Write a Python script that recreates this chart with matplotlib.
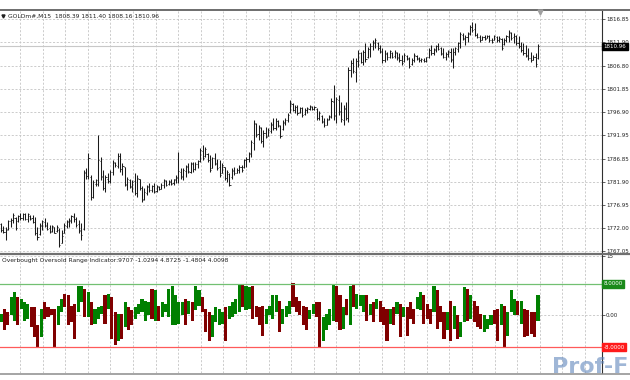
import numpy as np
import matplotlib
matplotlib.use('Agg')
import matplotlib.pyplot as plt
from matplotlib.lines import Line2D

# GOLDm#,M15 price bars
highs = [
    1773.0, 1772.4, 1772.2, 1773.7, 1774.1, 1775.1, 1774.4, 1774.8, 1775.1, 1775.3,
    1775.1, 1775.1, 1774.8, 1774.8, 1774.4, 1772.2, 1773.0, 1773.7, 1774.1, 1773.3,
    1772.6, 1772.6, 1772.2, 1772.6, 1771.9, 1771.5, 1773.0, 1773.7, 1774.1, 1774.8,
    1775.1, 1774.4, 1773.7, 1773.0, 1784.4, 1784.8, 1788.0, 1783.4, 1782.3, 1782.6,
    1791.9, 1787.3, 1784.4, 1783.4, 1783.7, 1784.4, 1786.6, 1786.2, 1788.0, 1788.0,
    1785.9, 1785.1, 1783.0, 1782.6, 1782.3, 1783.7, 1783.4, 1782.6, 1780.9, 1780.5,
    1781.2, 1781.6, 1781.2, 1781.6, 1781.2, 1780.9, 1781.6, 1782.6, 1782.3, 1782.3,
    1782.6, 1782.6, 1783.4, 1788.4, 1784.8, 1784.8, 1785.5, 1785.9, 1786.2, 1786.2,
    1786.2, 1786.6, 1789.1, 1789.8, 1789.4, 1788.0, 1787.7, 1787.3, 1788.0, 1786.9,
    1786.6, 1785.9, 1785.1, 1784.4, 1783.7, 1784.8, 1785.1, 1784.8, 1785.5, 1785.5,
    1786.9, 1787.3, 1788.4, 1790.9, 1795.2, 1794.5, 1794.1, 1793.7, 1793.0, 1793.7,
    1793.4, 1794.8, 1795.5, 1795.5, 1795.2, 1794.1, 1795.2, 1795.5, 1796.6, 1799.5,
    1798.8, 1798.4, 1798.4, 1798.0, 1798.0, 1797.7, 1798.0, 1798.4, 1798.2, 1798.2,
    1797.7, 1797.0, 1796.2, 1795.5, 1795.5, 1796.2, 1799.8, 1802.7, 1800.2, 1800.5,
    1799.1, 1798.4, 1799.1, 1806.6, 1808.1, 1808.4, 1808.4, 1810.2, 1809.8, 1810.2,
    1811.6, 1810.9, 1811.6, 1812.3, 1812.7, 1812.0, 1811.3, 1810.6, 1810.2, 1809.8,
    1810.2, 1809.8, 1810.2, 1809.8, 1809.5, 1809.1, 1809.5, 1809.1, 1808.8, 1808.4,
    1809.5, 1809.1, 1808.8, 1808.4, 1808.4, 1808.8, 1810.6, 1811.3, 1810.6, 1811.3,
    1811.6, 1810.9, 1810.6, 1809.8, 1810.2, 1810.6, 1810.6, 1810.9, 1812.0, 1814.1,
    1813.8, 1813.4, 1814.1, 1815.6, 1816.3, 1815.9, 1813.8, 1813.4, 1813.1, 1813.4,
    1813.4, 1813.4, 1812.7, 1813.4, 1813.1, 1813.1, 1812.7, 1812.7, 1813.4, 1814.5,
    1814.1, 1813.8, 1813.4, 1813.1, 1812.0, 1811.6, 1811.3, 1810.6, 1809.8, 1809.1,
    1809.5, 1811.40]
lows = [
    1771.2, 1770.8, 1769.4, 1771.5, 1772.2, 1773.0, 1771.5, 1773.3, 1773.7, 1773.7,
    1773.7, 1773.3, 1773.7, 1773.0, 1770.5, 1769.4, 1770.5, 1771.5, 1772.2, 1771.5,
    1770.8, 1771.2, 1770.8, 1771.2, 1767.9, 1768.7, 1770.8, 1771.9, 1772.2, 1773.0,
    1773.3, 1772.2, 1770.8, 1769.4, 1771.5, 1782.6, 1782.6, 1778.0, 1778.4, 1780.9,
    1780.9, 1782.3, 1780.1, 1779.8, 1781.6, 1781.6, 1783.4, 1785.1, 1784.8, 1784.1,
    1783.4, 1780.9, 1780.1, 1780.5, 1779.8, 1779.1, 1778.7, 1780.1, 1777.6, 1778.0,
    1779.1, 1779.8, 1779.8, 1779.4, 1779.8, 1780.1, 1780.3, 1780.5, 1780.9, 1781.2,
    1781.2, 1781.2, 1781.6, 1781.6, 1782.6, 1782.3, 1783.0, 1783.7, 1783.7, 1784.1,
    1784.4, 1784.8, 1786.2, 1786.6, 1787.3, 1786.2, 1784.1, 1784.8, 1785.5, 1784.4,
    1783.0, 1783.7, 1782.3, 1781.9, 1780.9, 1782.6, 1783.4, 1783.7, 1783.7, 1784.1,
    1784.8, 1785.1, 1786.2, 1787.3, 1788.7, 1791.6, 1790.9, 1790.2, 1789.4, 1791.2,
    1791.7, 1792.3, 1793.0, 1793.0, 1793.7, 1791.2, 1793.0, 1794.1, 1794.8, 1796.6,
    1797.0, 1796.6, 1796.2, 1796.6, 1795.9, 1796.2, 1796.6, 1797.3, 1797.3, 1797.3,
    1795.2, 1795.2, 1794.5, 1793.7, 1794.1, 1795.2, 1795.5, 1795.2, 1794.5, 1796.2,
    1794.8, 1794.1, 1795.2, 1794.8, 1804.5, 1805.2, 1803.4, 1806.6, 1807.3, 1807.0,
    1807.7, 1808.4, 1808.8, 1810.2, 1810.6, 1810.2, 1809.5, 1807.3, 1807.7, 1808.1,
    1808.4, 1808.4, 1808.4, 1808.1, 1807.7, 1807.0, 1807.7, 1808.1, 1806.3, 1807.0,
    1807.7, 1808.1, 1807.7, 1807.7, 1807.7, 1807.7, 1808.4, 1809.1, 1809.1, 1809.8,
    1810.2, 1809.1, 1808.4, 1808.1, 1808.8, 1807.7, 1806.3, 1809.1, 1809.8, 1810.6,
    1812.3, 1811.3, 1812.0, 1813.4, 1814.1, 1813.1, 1812.7, 1812.0, 1812.3, 1812.3,
    1812.7, 1812.0, 1811.6, 1812.3, 1812.0, 1812.0, 1810.2, 1811.3, 1812.0, 1812.0,
    1812.3, 1811.6, 1811.3, 1810.6, 1809.8, 1809.1, 1808.8, 1808.1, 1807.7, 1808.1,
    1806.6, 1808.16]
opens = [
    1772.8, 1771.6, 1771.2, 1771.8, 1773.4, 1773.6, 1774.2, 1773.5, 1774.5, 1774.1,
    1775.0, 1774.0, 1774.6, 1774.1, 1773.3, 1771.0, 1770.7, 1772.5, 1773.3, 1772.6,
    1771.9, 1771.4, 1772.1, 1771.3, 1771.6, 1768.8, 1771.0, 1772.4, 1773.2, 1773.4,
    1774.3, 1774.0, 1772.8, 1771.5, 1771.8, 1783.8, 1783.2, 1782.9, 1778.7, 1781.4,
    1781.5, 1786.4, 1783.2, 1780.5, 1782.5, 1782.1, 1784.1, 1785.9, 1785.3, 1787.4,
    1784.6, 1785.0, 1781.3, 1782.2, 1780.8, 1782.0, 1779.4, 1782.5, 1780.6, 1778.2,
    1779.6, 1780.8, 1780.2, 1780.9, 1779.9, 1780.8, 1780.4, 1781.2, 1782.0, 1781.4,
    1781.9, 1781.6, 1782.3, 1782.8, 1784.0, 1783.0, 1784.3, 1785.0, 1784.1, 1785.8,
    1784.7, 1785.7, 1786.4, 1788.6, 1787.5, 1787.8, 1786.6, 1784.9, 1787.0, 1785.9,
    1785.0, 1783.8, 1785.0, 1782.8, 1783.5, 1782.9, 1784.3, 1783.8, 1784.4, 1785.0,
    1785.0, 1786.5, 1786.8, 1787.8, 1790.3, 1794.3, 1792.1, 1793.5, 1790.6, 1792.3,
    1791.8, 1792.8, 1794.2, 1793.5, 1794.9, 1793.9, 1793.3, 1794.6, 1795.1, 1796.8,
    1798.6, 1797.3, 1798.0, 1796.8, 1797.7, 1796.4, 1797.3, 1797.6, 1798.0, 1797.5,
    1797.6, 1795.7, 1796.0, 1794.9, 1794.2, 1795.3, 1795.9, 1799.0, 1796.2, 1799.5,
    1797.0, 1795.2, 1797.6, 1795.5, 1805.8, 1807.3, 1805.5, 1807.8, 1809.5, 1807.6,
    1809.7, 1808.6, 1810.4, 1811.0, 1811.8, 1811.8, 1810.7, 1809.9, 1808.1, 1809.4,
    1808.7, 1809.6, 1808.9, 1809.6, 1808.6, 1808.1, 1807.9, 1808.9, 1808.4, 1807.1,
    1808.0, 1809.0, 1808.3, 1808.0, 1808.1, 1807.9, 1808.6, 1810.2, 1809.5, 1810.3,
    1811.0, 1810.6, 1809.5, 1808.7, 1809.3, 1809.8, 1808.1, 1809.7, 1810.5, 1811.6,
    1813.4, 1812.7, 1812.9, 1813.7, 1815.1, 1814.6, 1813.4, 1813.0, 1812.4, 1812.9,
    1812.8, 1813.2, 1812.3, 1812.4, 1813.0, 1812.3, 1812.6, 1811.5, 1812.4, 1813.0,
    1813.9, 1812.9, 1813.2, 1811.8, 1811.0, 1810.3, 1809.6, 1809.1, 1808.5, 1808.1,
    1808.8, 1808.39]
closes = [
    1771.6, 1771.2, 1771.5, 1773.4, 1773.8, 1774.8, 1772.0, 1774.6, 1774.2, 1775.0,
    1774.0, 1774.9, 1774.0, 1773.2, 1770.9, 1770.0, 1772.7, 1773.4, 1772.5, 1771.8,
    1771.2, 1772.3, 1771.0, 1772.2, 1768.4, 1770.2, 1772.7, 1773.4, 1773.8, 1774.5,
    1774.0, 1772.6, 1771.4, 1770.4, 1783.9, 1783.2, 1787.0, 1778.6, 1781.8, 1782.2,
    1786.5, 1783.0, 1780.6, 1782.9, 1782.0, 1784.0, 1786.1, 1785.4, 1787.4, 1784.6,
    1785.3, 1781.4, 1782.5, 1780.9, 1781.9, 1779.5, 1782.8, 1780.5, 1778.0, 1779.8,
    1780.9, 1780.2, 1781.0, 1779.8, 1780.9, 1780.3, 1781.3, 1782.2, 1781.3, 1782.0,
    1781.5, 1782.4, 1783.0, 1784.2, 1783.1, 1784.5, 1785.2, 1784.2, 1785.9, 1784.6,
    1785.8, 1786.3, 1788.7, 1787.0, 1789.0, 1786.6, 1784.5, 1787.0, 1785.8, 1784.9,
    1783.4, 1785.5, 1782.7, 1783.9, 1781.3, 1784.4, 1783.8, 1784.5, 1785.1, 1784.5,
    1786.6, 1786.9, 1788.0, 1790.5, 1794.5, 1792.0, 1793.6, 1790.7, 1792.4, 1791.5,
    1793.0, 1794.3, 1793.4, 1795.0, 1794.0, 1791.7, 1794.8, 1795.2, 1796.2, 1798.8,
    1797.4, 1798.0, 1796.6, 1797.8, 1796.3, 1797.4, 1797.8, 1798.1, 1797.5, 1798.0,
    1795.6, 1796.6, 1794.8, 1794.0, 1795.1, 1796.0, 1799.2, 1796.0, 1799.6, 1796.9,
    1795.3, 1797.8, 1795.7, 1805.9, 1807.5, 1805.6, 1807.9, 1809.6, 1807.7, 1809.8,
    1808.2, 1810.5, 1811.1, 1811.9, 1812.3, 1810.6, 1809.8, 1808.0, 1809.6, 1808.6,
    1809.9, 1808.8, 1809.7, 1808.5, 1808.0, 1807.4, 1809.1, 1808.3, 1806.8, 1808.1,
    1809.2, 1808.4, 1808.0, 1808.2, 1807.9, 1808.6, 1810.2, 1809.6, 1810.4, 1811.0,
    1810.5, 1809.4, 1808.8, 1809.4, 1809.9, 1808.2, 1809.8, 1810.6, 1811.7, 1813.6,
    1812.6, 1813.0, 1813.8, 1815.2, 1814.5, 1813.4, 1813.0, 1812.3, 1812.9, 1812.6,
    1813.2, 1812.3, 1811.9, 1813.1, 1812.3, 1812.8, 1810.6, 1812.4, 1813.1, 1814.1,
    1812.8, 1813.3, 1811.7, 1811.0, 1810.2, 1809.5, 1809.0, 1808.5, 1808.0, 1808.8,
    1807.2, 1810.96]

# Overbought Oversold Range Indicator histogram (open / close of each block)
osc_open = [
    -1.7, 1.7, 0.8, 0.0, -1.3, 4.7, 1.7, -1.3, -0.8, 2.1,
    2.1, -2.5, -5.5, 3.4, 2.1, 1.7, 1.7, -2.5, 0.8, 5.5,
    5.1, 2.5, 3.0, 0.8, 3.4, 6.8, -0.4, 3.4, -2.1, -0.8,
    0.4, 5.1, 1.7, 4.7, 0.8, -6.4, 0.4, -3.0, 2.1, 1.3,
    -0.8, 0.4, 0.8, -1.3, 0.0, 6.8, -1.3, 2.5, -0.4, 0.8,
    -0.4, -2.5, -2.5, -2.1, 0.0, 4.2, 0.4, 3.4, 1.3, 2.5,
    4.7, 1.7, 0.8, -5.5, -1.7, -2.5, -2.1, 2.1, -0.8, -0.4,
    0.4, 0.8, 8.0, 1.3, 1.7, 7.6, 2.5, 2.1, 2.5, -2.1,
    0.0, -0.8, 0.8, 3.8, -2.1, -0.4, 0.4, 8.3, 4.7, 3.8,
    2.5, 2.1, -0.8, 0.4, 3.4, 3.4, -6.4, -3.8, -2.5, -1.3,
    7.6, 5.1, -3.4, 4.2, -2.5, 8.0, 1.7, 2.5, 0.8, 5.1,
    0.0, 3.4, 1.7, 3.8, 2.1, 1.7, -2.1, 2.1, 0.4, 3.0,
    -0.4, 2.1, 3.4, 1.7, 1.7, 1.3, 5.1, 3.0, 1.7, 0.8,
    6.4, 2.5, 0.8, -3.8, 3.8, -3.4, 0.0, -5.5, -1.7, 6.8,
    -0.8, 3.8, 2.5, 0.4, -4.2, -3.4, -2.5, 1.3, 1.7, -2.5,
    2.5, -5.1, 0.8, 0.0, 3.8, -2.1, 1.7, 1.3, 0.8, 0.8,
    -1.3]
osc_close = [
    0.4, -3.8, -2.5, 4.7, 5.9, -2.5, 4.2, 3.4, 3.0, -3.0,
    -5.5, -8.0, 1.7, -0.8, -0.4, 0.0, -8.0, 2.5, 4.2, 2.1,
    -2.5, -1.7, -5.9, 7.6, 7.6, -0.4, 5.9, -2.5, 1.7, 2.1,
    2.5, -2.1, 5.5, -5.9, -7.6, 0.4, -5.9, 3.4, -3.8, -2.5,
    2.1, 3.0, 4.2, 3.8, 3.4, -0.8, 6.4, -1.3, 3.4, 3.0,
    6.8, 7.6, 5.1, 3.4, 3.4, -2.5, 3.8, -1.3, 7.6, 6.4,
    0.8, -4.2, -6.4, 0.0, 2.1, 1.7, 0.8, -6.4, 2.5, 3.4,
    4.2, 8.0, 2.1, 7.6, 7.2, -0.8, -0.4, -2.5, -5.1, 1.7,
    2.5, 5.1, 5.1, -4.2, 1.7, 2.5, 3.8, 2.1, 0.8, 0.0,
    -2.5, -3.8, 1.3, 3.0, -0.4, -8.0, -0.4, 0.4, 1.7, 8.0,
    -1.7, -3.8, 2.1, 0.0, 7.6, 2.1, 5.5, 5.1, 5.1, -1.3,
    3.0, -1.7, 4.2, -1.7, -2.5, -6.4, 1.7, -2.5, 3.4, -5.5,
    2.1, -5.1, -0.8, -2.1, 4.7, 5.9, -2.1, -0.8, -2.1, 7.6,
    -3.4, -1.7, -5.9, 0.8, -6.4, 2.5, -5.9, -1.7, 7.2, -1.3,
    5.1, -1.7, -3.0, -3.4, 0.0, -0.8, 0.0, -2.1, -6.4, 3.0,
    -8.0, 0.8, 6.4, 4.2, 0.0, 3.8, -5.5, -5.1, -4.7, -5.5,
    5.1]

price_ticks = [1816.85, 1811.90, 1806.80, 1801.85, 1796.90, 1791.95,
               1786.85, 1781.90, 1776.95, 1772.00, 1767.05]
price_labels = ['1816.85', '1811.90', '1806.80', '1801.85', '1796.90', '1791.95',
                '1786.85', '1781.90', '1776.95', '1772.00', '1767.05']
last_price = 1810.96
level_hi, level_lo = 8.0, -8.0
header = 'GOLDm#,M15  1808.39 1811.40 1808.16 1810.96'
ind_header = 'Overbought Oversold Range Indicator:9707 -1.0294 4.8725 -1.4804 4.0098'

W, H = 630, 380
FS = 4.3
AFS = 3.95
GRID = '#c4c4c4'

fig = plt.figure(figsize=(W / 100, H / 100), dpi=100)
fig.patch.set_facecolor('white')

def fbox(x0, y0, x1, y1):
    return [x0 / W, 1 - y1 / H, (x1 - x0) / W, (y1 - y0) / H]

ax1 = fig.add_axes(fbox(0, 11, 602, 253))
ax2 = fig.add_axes(fbox(0, 255, 602, 373))

n = len(highs)
x = np.arange(n)
step = 537 / (n - 1)            # px per bar
xl = (-1 / step, (602 - 1) / step)
grid_x = [(px - 1) / step for px in np.arange(20, 600, 22.6)]

for ax in (ax1, ax2):
    ax.set_xlim(*xl)
    ax.set_facecolor('white')
    for s in ('top', 'left', 'bottom'):
        ax.spines[s].set_visible(False)
    ax.spines['right'].set_color('#303030')
    ax.spines['right'].set_linewidth(0.8)
    ax.set_xticks(grid_x)
    ax.tick_params(axis='x', length=0, labelbottom=False)
    ax.yaxis.tick_right()
    ax.tick_params(axis='y', length=2, width=0.5, pad=0.8, labelsize=AFS,
                   colors='#202020')
    ax.grid(True, color=GRID, lw=0.6, ls=(0, (2.5, 2)))
    ax.set_axisbelow(True)

# --- price panel ---
ax1.set_ylim(1766.61, 1818.57)
ax1.set_yticks(price_ticks)
ax1.set_yticklabels(price_labels)
ax1.axhline(last_price, color='#c8c8c8', lw=0.8, zorder=1)
ax1.vlines(x, lows, highs, color='#1a1a1a', lw=0.75, zorder=3)
ax1.hlines(opens, x - 0.45, x, color='#1a1a1a', lw=0.6, zorder=3)
ax1.hlines(closes, x, x + 0.45, color='#1a1a1a', lw=0.6, zorder=3)
ax1.text(1.003, last_price, '1810.96', transform=ax1.get_yaxis_transform(),
         fontsize=AFS, color='white', va='center', ha='left', zorder=10,
         bbox=dict(boxstyle='square,pad=0.25', fc='black', ec='black'),
         clip_on=False)
ax1.text(8 / 602, 0.979, header, transform=ax1.transAxes, fontsize=FS,
         color='#202020', va='center', ha='left')
ax1.plot([3 / 602], [0.979], marker='v', ms=2.2, color='#202020',
         transform=ax1.transAxes, clip_on=False)

# --- indicator panel ---
ax2.set_ylim(-14.6, 15.36)
ax2.set_yticks([15, 0])
ax2.set_yticklabels(['15', '0.00'])
xi = np.linspace(0, n - 1, len(osc_open))
wi = (n - 1) / (len(osc_open) - 1) * 0.92
o = np.array(osc_open)
c = np.array(osc_close)
cols = np.where(c >= o, '#008000', '#800000')
ax2.bar(xi, np.abs(c - o), bottom=np.minimum(o, c), width=wi, color=cols,
        lw=0, zorder=3)
ax2.axhline(level_hi, color='#72c072', lw=0.9, zorder=4)
ax2.axhline(level_lo, color='#ff5a5a', lw=0.9, zorder=4)
for lv, fc in ((level_hi, '#1a8a1a'), (level_lo, '#ff1a1a')):
    ax2.text(1.003, lv, '%.4f' % lv, transform=ax2.get_yaxis_transform(),
             fontsize=AFS, color='white', va='center', ha='left', zorder=10,
             bbox=dict(boxstyle='square,pad=0.25', fc=fc, ec=fc), clip_on=False)
ax2.text(2 / 602, 0.95, ind_header, transform=ax2.transAxes, fontsize=FS,
         color='#202020', va='center', ha='left')

# panel separators
for yy, lw, col in ((9.5, 2.0, '#707070'), (253.8, 2.2, '#707070'), (373.5, 1.6, '#909090')):
    fig.add_artist(Line2D([0, 1], [1 - yy / H, 1 - yy / H], color=col, lw=lw * 0.72))

# chart shift marker
fig.add_artist(Line2D([540 / W], [1 - 12 / H], marker='v', ms=3.5, color='#a0a0a0', lw=0))

# watermark
fig.text(628 / W, 1 - 377 / H, 'Prof-F', fontsize=16, fontweight='bold',
         color='#5f86bc', alpha=0.6, ha='right', va='bottom')

fig.savefig('out.png', dpi=100)
